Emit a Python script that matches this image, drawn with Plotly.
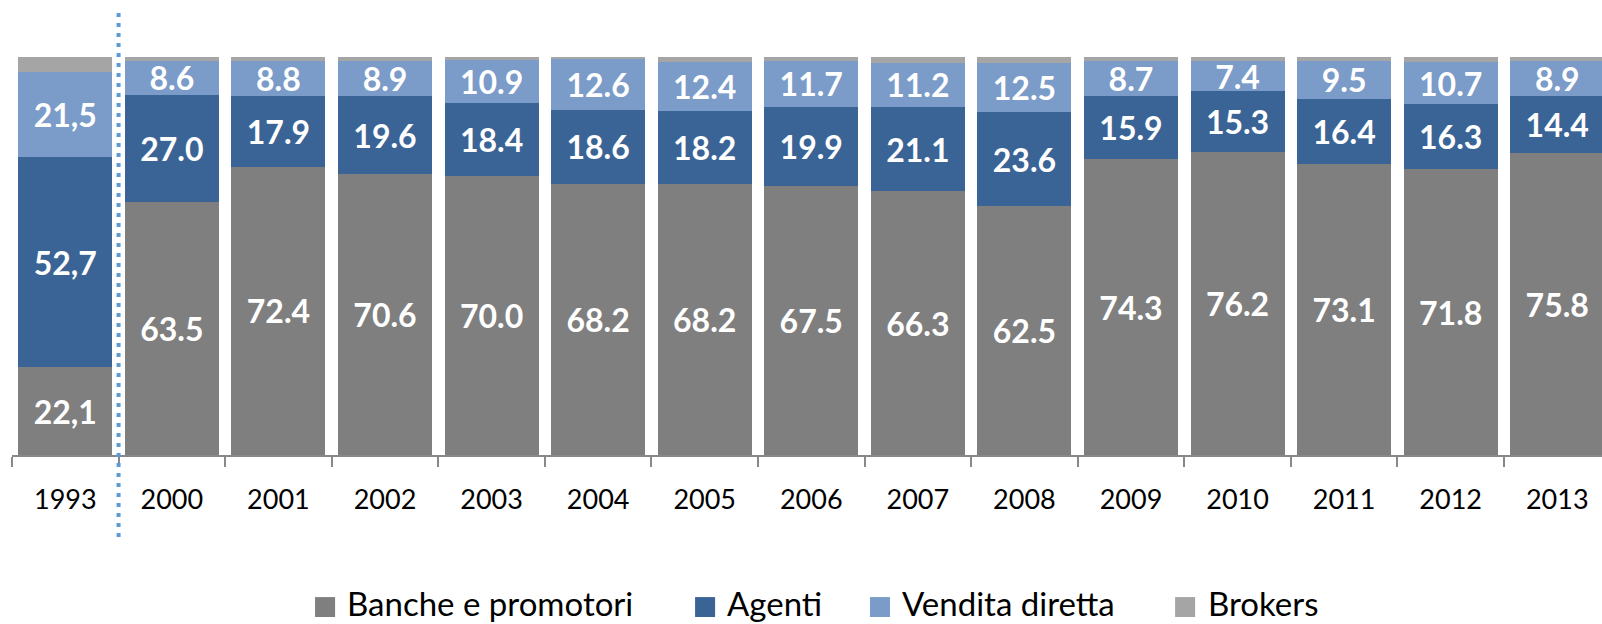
import plotly.graph_objects as go

categories = ["1993", "2000", "2001", "2002", "2003", "2004", "2005", "2006",
              "2007", "2008", "2009", "2010", "2011", "2012", "2013"]
banche = [22.1, 63.5, 72.4, 70.6, 70.0, 68.2, 68.2, 67.5, 66.3, 62.5, 74.3, 76.2, 73.1, 71.8, 75.8]
agenti = [52.7, 27.0, 17.9, 19.6, 18.4, 18.6, 18.2, 19.9, 21.1, 23.6, 15.9, 15.3, 16.4, 16.3, 14.4]
vendita = [21.5, 8.6, 8.8, 8.9, 10.9, 12.6, 12.4, 11.7, 11.2, 12.5, 8.7, 7.4, 9.5, 10.7, 8.9]
brokers = [3.7, 0.9, 0.9, 0.9, 0.7, 0.6, 1.2, 0.9, 1.4, 1.4, 1.1, 1.1, 1.0, 1.2, 0.9]

series_names = ["Banche e promotori", "Agenti", "Vendita diretta", "Brokers"]
series_values = [banche, agenti, vendita, brokers]
series_colors = ["#7f7f7f", "#3b6496", "#7b9bc8", "#a5a5a5"]
series_labels = [True, True, True, False]


def fmt(v, cat):
    s = f"{v:.1f}"
    return s.replace(".", ",") if cat == "1993" else s


fig = go.Figure()
for name, vals, col, lab in zip(series_names, series_values, series_colors, series_labels):
    fig.add_trace(go.Bar(
        x=categories, y=vals, name=name, marker_color=col,
        marker_line_width=0,
        text=[fmt(v, c) for v, c in zip(vals, categories)] if lab else None,
        textposition="inside" if lab else "none",
        insidetextanchor="middle",
        textangle=0,
        constraintext="none",
        textfont=dict(family="Lato", size=32, color="white", weight="bold"),
        showlegend=False,
        hoverinfo="skip",
    ))

# manual legend (squares + labels)
leg_sq_x = [0.1906, 0.4296, 0.5396, 0.7315]
leg_tx_x = [0.2094, 0.4484, 0.5585, 0.7509]
for name, col, sx, tx in zip(series_names, series_colors, leg_sq_x, leg_tx_x):
    fig.add_shape(type="rect", xref="paper", yref="paper",
                  x0=sx, x1=sx + 0.0126, y0=-0.407, y1=-0.357,
                  fillcolor=col, line_width=0)
    fig.add_annotation(xref="paper", yref="paper", x=tx, y=-0.372,
                       text=name, showarrow=False, xanchor="left", yanchor="middle",
                       font=dict(family="Lato", size=33, color="#000000"))

# dotted separator between 1993 and 2000
fig.add_shape(type="line", xref="x", yref="paper", x0=0.5, x1=0.5,
              y0=-0.206, y1=1.111, layer="above",
              line=dict(color="#5b9bd5", width=4, dash="4px,6px"))

fig.update_layout(
    barmode="stack",
    bargap=0.118,
    width=1602, height=624,
    margin=dict(l=12, r=0, t=57, b=169),
    paper_bgcolor="white", plot_bgcolor="white",
    uniformtext=dict(minsize=32, mode="show"),
    font=dict(family="Lato"),
)
fig.update_xaxes(
    type="category", range=[-0.5, 14.42],
    showline=True, linecolor="#888888", linewidth=1.5,
    ticks="outside", tickson="boundaries", ticklen=10, tickcolor="#888888", tickwidth=1.5,
    tickfont=dict(family="Lato", size=27, color="#000000"),
    ticklabelstandoff=20,
    showgrid=False, zeroline=False,
)
fig.update_yaxes(range=[0, 100], visible=False, showgrid=False)

fig.write_html("out.html")
